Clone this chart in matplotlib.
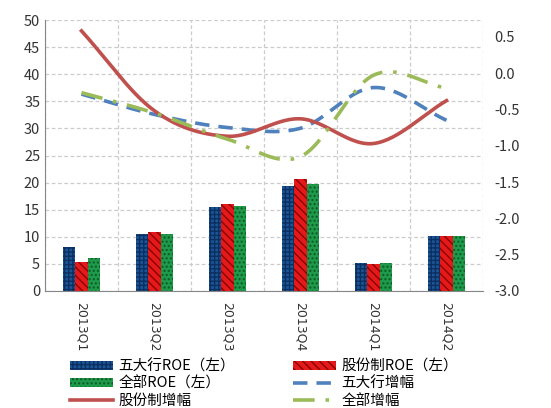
import numpy as np
import matplotlib
matplotlib.use("Agg")
import matplotlib.pyplot as plt

plt.rcParams['font.family'] = ['Noto Sans CJK SC', 'DejaVu Sans']
plt.rcParams['hatch.linewidth'] = 1.0

quarters = ["2013Q1", "2013Q2", "2013Q3", "2013Q4", "2014Q1", "2014Q2"]

# ROE, left axis
roe_big5 = [8.2, 10.5, 15.5, 19.3, 5.2, 10.2]
roe_joint = [5.4, 10.9, 16.1, 20.6, 5.0, 10.2]
roe_all = [6.1, 10.6, 15.7, 19.8, 5.2, 10.2]

# growth, right axis
gr_big5 = [-0.29, -0.57, -0.75, -0.76, -0.20, -0.65]
gr_joint = [0.58, -0.52, -0.87, -0.63, -0.97, -0.38]
gr_all = [-0.27, -0.55, -0.91, -1.15, -0.03, -0.21]


def smooth(y, n=30):
    # catmull-rom, roughly what Excel does for smoothed lines
    y = np.asarray(y, float)
    x = np.arange(len(y), dtype=float)
    p = np.concatenate([[2 * y[0] - y[1]], y, [2 * y[-1] - y[-2]]])
    xs, ys = [], []
    t = np.linspace(0, 1, n, endpoint=False)
    for i in range(len(y) - 1):
        p0, p1, p2, p3 = p[i], p[i + 1], p[i + 2], p[i + 3]
        seg = 0.5 * ((2 * p1) + (-p0 + p2) * t
                     + (2 * p0 - 5 * p1 + 4 * p2 - p3) * t ** 2
                     + (-p0 + 3 * p1 - 3 * p2 + p3) * t ** 3)
        xs.append(x[i] + t)
        ys.append(seg)
    xs.append([x[-1]])
    ys.append([y[-1]])
    return np.concatenate(xs), np.concatenate(ys)


fig = plt.figure(figsize=(5.51, 4.08), dpi=100)
ax = fig.add_axes([45 / 551, 1 - 291 / 408, 438 / 551, 271 / 408])
ax2 = ax.twinx()

x = np.arange(len(quarters))
w = 0.17
ax.bar(x - w, roe_big5, w, color="#1B5597", edgecolor="#0B2F5F", hatch="++++",
       linewidth=0, label="五大行ROE（左）", zorder=2)
ax.bar(x, roe_joint, w, color="#E41A1A", edgecolor="#8B0000", hatch="\\\\\\\\",
       linewidth=0, label="股份制ROE（左）", zorder=2)
ax.bar(x + w, roe_all, w, color="#1E9A4A", edgecolor="#0C5A26", hatch="....",
       linewidth=0, label="全部ROE（左）", zorder=2)

ax.set_xlim(-0.5, len(quarters) - 0.5)
ax.set_ylim(0, 50)
ax.set_yticks(range(0, 51, 5))
ax.set_xticks(x)
ax.set_xticklabels(quarters, rotation=270, fontsize=9, family="DejaVu Sans")
ax.set_xticks(np.arange(-0.5, len(quarters)), minor=True)
ax.grid(True, which="major", axis="y", color="#CCCCCC", linestyle=(0, (3, 2)), lw=0.9)
ax.grid(True, which="minor", axis="x", color="#CCCCCC", linestyle=(0, (3, 2)), lw=0.9)
ax.tick_params(which="both", length=0, labelsize=10.5, colors="#333333")
ax.tick_params(axis="x", pad=8, labelsize=9)
for s in ["top", "right"]:
    ax.spines[s].set_visible(False)
for s in ["left", "bottom"]:
    ax.spines[s].set_color("#868686")
ax.set_axisbelow(True)

sx, sy = smooth(gr_big5)
ax2.plot(sx, sy, color="#4F81BD", lw=2.6, linestyle=(0, (4, 2.5)), label="五大行增幅")
sx, sy = smooth(gr_joint)
ax2.plot(sx, sy, color="#C0504D", lw=2.6, label="股份制增幅")
sx, sy = smooth(gr_all)
ax2.plot(sx, sy, color="#9BBB59", lw=2.6, linestyle=(0, (6, 3, 1, 3)), label="全部增幅")

ax2.set_ylim(-3.0, 0.73)
ax2.set_yticks(np.arange(-3.0, 0.51, 0.5))
ax2.set_yticklabels(["%.1f" % v for v in np.arange(-3.0, 0.51, 0.5)])
ax2.tick_params(length=0, labelsize=10.5, colors="#333333", pad=8)
for s in ax2.spines.values():
    s.set_visible(False)

h1, l1 = ax.get_legend_handles_labels()
h2, l2 = ax2.get_legend_handles_labels()
handles = h1 + h2
labels = l1 + l2
# legend fills column by column, so reorder to read row by row
order = [0, 2, 4, 1, 3, 5]
fig.legend([handles[i] for i in order], [labels[i] for i in order], ncol=2,
           loc="upper left", bbox_to_anchor=(70 / 551, 1 - 359 / 408),
           frameon=False, fontsize=10.5, handlelength=2.95, handleheight=0.55,
           columnspacing=4.0, labelspacing=0.22, handletextpad=0.35, borderpad=0,
           borderaxespad=0)

fig.savefig("out.png", dpi=100)
